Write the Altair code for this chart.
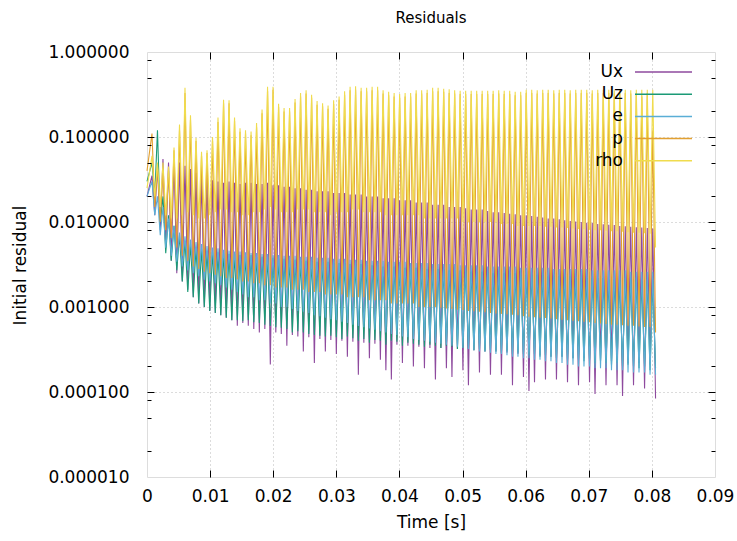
import altair as alt
import pandas as pd

# ---------------- data ----------------
series_names = ["Ux", "Uz", "e", "p", "rho"]
series_colors = ["#8e4a9e", "#1b9a76", "#5aaed6", "#e2a030", "#f0dc4e"]
chart_title = "Residuals"
x_title = "Time [s]"
y_title = "Initial residual"

t_start = 0.0
t_peak = [0.00079, 0.00166, 0.00253, 0.00341, 0.00428, 0.00515, 0.00602, 0.00689, 0.00777, 0.00864,
          0.00951, 0.01038, 0.01125, 0.01213, 0.01300, 0.01387, 0.01474, 0.01561, 0.01649, 0.01736,
          0.01823, 0.01910, 0.01997, 0.02085, 0.02172, 0.02259, 0.02346, 0.02433, 0.02521, 0.02608,
          0.02695, 0.02782, 0.02869, 0.02957, 0.03044, 0.03131, 0.03218, 0.03305, 0.03393, 0.03480,
          0.03567, 0.03654, 0.03741, 0.03829, 0.03916, 0.04003, 0.04090, 0.04177, 0.04265, 0.04352,
          0.04439, 0.04526, 0.04613, 0.04701, 0.04788, 0.04875, 0.04962, 0.05049, 0.05137, 0.05224,
          0.05311, 0.05398, 0.05485, 0.05573, 0.05660, 0.05747, 0.05834, 0.05921, 0.06009, 0.06096,
          0.06183, 0.06270, 0.06357, 0.06445, 0.06532, 0.06619, 0.06706, 0.06793, 0.06881, 0.06968,
          0.07055, 0.07142, 0.07229, 0.07317, 0.07404, 0.07491, 0.07578, 0.07665, 0.07753, 0.07840,
          0.07927, 0.08014]
t_trough = [0.00123, 0.00210, 0.00297, 0.00384, 0.00472, 0.00559, 0.00646, 0.00733, 0.00820, 0.00908,
            0.00995, 0.01082, 0.01169, 0.01256, 0.01344, 0.01431, 0.01518, 0.01605, 0.01692, 0.01780,
            0.01867, 0.01954, 0.02041, 0.02128, 0.02216, 0.02303, 0.02390, 0.02477, 0.02564, 0.02652,
            0.02739, 0.02826, 0.02913, 0.03000, 0.03088, 0.03175, 0.03262, 0.03349, 0.03436, 0.03524,
            0.03611, 0.03698, 0.03785, 0.03872, 0.03960, 0.04047, 0.04134, 0.04221, 0.04308, 0.04396,
            0.04483, 0.04570, 0.04657, 0.04744, 0.04832, 0.04919, 0.05006, 0.05093, 0.05180, 0.05268,
            0.05355, 0.05442, 0.05529, 0.05616, 0.05704, 0.05791, 0.05878, 0.05965, 0.06052, 0.06140,
            0.06227, 0.06314, 0.06401, 0.06488, 0.06576, 0.06663, 0.06750, 0.06837, 0.06924, 0.07012,
            0.07099, 0.07186, 0.07273, 0.07360, 0.07448, 0.07535, 0.07622, 0.07709, 0.07796, 0.07884,
            0.07971, 0.08058]

start_values = [0.02, 0.03, 0.02, 0.04, 0.025]

Ux_hi = [0.035, 0.045, 0.055, 0.050, 0.052, 0.050, 0.046, 0.042, 0.038, 0.034,
         0.033, 0.031, 0.030, 0.029, 0.030, 0.029, 0.028, 0.029, 0.029, 0.028,
         0.028, 0.029, 0.027, 0.027, 0.026, 0.026, 0.025, 0.025, 0.024, 0.024,
         0.023, 0.023, 0.023, 0.022, 0.022, 0.022, 0.021, 0.021, 0.021, 0.020,
         0.020, 0.020, 0.019, 0.019, 0.019, 0.018, 0.018, 0.018, 0.017, 0.017,
         0.017, 0.016, 0.016, 0.016, 0.015, 0.015, 0.015, 0.0145, 0.014, 0.014,
         0.014, 0.0135, 0.013, 0.013, 0.0128, 0.0125, 0.0123, 0.012, 0.012, 0.0118,
         0.0115, 0.0113, 0.011, 0.011, 0.0108, 0.0105, 0.0103, 0.0101, 0.010, 0.0098,
         0.0097, 0.0095, 0.0094, 0.0093, 0.0092, 0.0090, 0.0089, 0.0088, 0.0087, 0.0086,
         0.0085, 0.0084]
Ux_lo = [0.012, 0.008, 0.005, 0.0035, 0.0025, 0.002, 0.0016, 0.0013, 0.0011, 0.001,
         0.0009, 0.00085, 0.0008, 0.00075, 0.0007, 0.0006, 0.00065, 0.0006, 0.00055, 0.0005,
         0.00055, 0.00021, 0.0005, 0.00048, 0.00035, 0.00047, 0.00045, 0.0003, 0.00044, 0.00022,
         0.00042, 0.0003, 0.00041, 0.00028, 0.0004, 0.00026, 0.00039, 0.00016, 0.00038, 0.00025,
         0.00037, 0.00024, 0.00018, 0.00014, 0.00036, 0.00022, 0.00035, 0.0002, 0.00034, 0.00019,
         0.00033, 0.00014, 0.00033, 0.00019, 0.00015, 0.00032, 0.00018, 0.00012, 0.00031, 0.00017,
         0.0003, 0.00016, 0.0003, 0.00016, 0.00029, 0.00012, 0.00028, 0.00015, 0.000103, 0.00013,
         0.00027, 0.00014, 0.00026, 0.00014, 0.00026, 0.00013, 0.00025, 0.00012, 0.00025, 0.00013,
         0.000095, 0.00024, 0.00012, 0.00023, 0.00012, 0.00009, 0.00022, 0.00012, 0.00022, 0.00011,
         0.00021, 0.000084]

Uz_hi = [0.05, 0.12, 0.02, 0.012, 0.009, 0.007, 0.006, 0.0055, 0.005, 0.0048,
         0.0046, 0.0045, 0.0044, 0.0043, 0.0042, 0.0042, 0.0041, 0.004, 0.0041, 0.0039,
         0.0039, 0.0038, 0.0038, 0.0037, 0.0037, 0.0036, 0.0036, 0.0035, 0.0035, 0.0035,
         0.0034, 0.0034, 0.0034, 0.0033, 0.0033, 0.0033, 0.0032, 0.0032, 0.0032, 0.0031,
         0.0031, 0.0031, 0.003, 0.003, 0.003, 0.003, 0.0029, 0.0029, 0.0029, 0.0029,
         0.0028, 0.0028, 0.0028, 0.0028, 0.0027, 0.0027, 0.0027, 0.0027, 0.0026, 0.0026,
         0.0026, 0.0026, 0.0025, 0.0025, 0.0025, 0.0025, 0.0025, 0.0024, 0.0024, 0.0024,
         0.0024, 0.0024, 0.0023, 0.0023, 0.0023, 0.0023, 0.0023, 0.0022, 0.0022, 0.0022,
         0.0022, 0.0022, 0.0022, 0.0021, 0.0021, 0.0021, 0.0021, 0.0021, 0.0021, 0.002,
         0.002, 0.002]
Uz_lo = [0.02, 0.01, 0.0043, 0.0035, 0.0027, 0.002, 0.0015, 0.0013, 0.0011, 0.001,
         0.0009, 0.00085, 0.0008, 0.00075, 0.0007, 0.0007, 0.00068, 0.0007, 0.00066, 0.00065,
         0.00062, 0.0006, 0.00058, 0.00057, 0.00055, 0.0005, 0.00052, 0.0005, 0.00048, 0.00047,
         0.00046, 0.00045, 0.00046, 0.00044, 0.00042, 0.00045, 0.00043, 0.0004, 0.00042, 0.00038,
         0.00041, 0.0004, 0.00036, 0.0004, 0.00039, 0.00035, 0.00038, 0.00037, 0.00036, 0.00034,
         0.00036, 0.00035, 0.00033, 0.00035, 0.00034, 0.00032, 0.00033, 0.00032, 0.00031, 0.00032,
         0.0003, 0.00031, 0.0003, 0.00029, 0.0003, 0.00028, 0.00029, 0.00028, 0.00027, 0.00028,
         0.00026, 0.00027, 0.00026, 0.00025, 0.00026, 0.00024, 0.00025, 0.00024, 0.00023, 0.00024,
         0.00022, 0.00023, 0.00022, 0.00021, 0.00022, 0.0002, 0.00021, 0.0002, 0.00019, 0.0002,
         0.00018, 0.00019]

e_hi = [0.03, 0.02, 0.015, 0.011, 0.009, 0.0075, 0.0068, 0.0062, 0.0058, 0.0055,
        0.0052, 0.005, 0.0049, 0.0047, 0.0046, 0.0045, 0.0045, 0.0044, 0.0043, 0.0043,
        0.0042, 0.0042, 0.0041, 0.0041, 0.004, 0.004, 0.004, 0.0039, 0.0039, 0.0039,
        0.0038, 0.0038, 0.0038, 0.0037, 0.0037, 0.0037, 0.0036, 0.0036, 0.0036, 0.0035,
        0.0035, 0.0035, 0.0035, 0.0034, 0.0034, 0.0034, 0.0034, 0.0033, 0.0033, 0.0033,
        0.0033, 0.0032, 0.0032, 0.0032, 0.0032, 0.0032, 0.0031, 0.0031, 0.0031, 0.0031,
        0.0031, 0.003, 0.003, 0.003, 0.003, 0.003, 0.003, 0.0029, 0.0029, 0.0029,
        0.0029, 0.0029, 0.0029, 0.0028, 0.0028, 0.0028, 0.0028, 0.0028, 0.0028, 0.0028,
        0.0027, 0.0027, 0.0027, 0.0027, 0.0027, 0.0027, 0.0027, 0.0026, 0.0026, 0.0026,
        0.0026, 0.0026]
e_lo = [0.012, 0.007, 0.005, 0.004, 0.0034, 0.003, 0.0027, 0.0025, 0.0023, 0.0021,
        0.002, 0.0019, 0.0018, 0.0017, 0.0016, 0.0015, 0.0014, 0.0013, 0.0013, 0.0012,
        0.0012, 0.0011, 0.0011, 0.001, 0.001, 0.00095, 0.0009, 0.00088, 0.00085, 0.0008,
        0.00078, 0.00075, 0.00072, 0.0007, 0.00067, 0.00065, 0.00062, 0.0006, 0.00058, 0.00056,
        0.00054, 0.00052, 0.0005, 0.00048, 0.00047, 0.00045, 0.00044, 0.00042, 0.00041, 0.0004,
        0.00039, 0.00038, 0.00037, 0.00036, 0.00035, 0.00034, 0.00033, 0.00032, 0.00031, 0.0003,
        0.0003, 0.00029, 0.00028, 0.00028, 0.00027, 0.00026, 0.00026, 0.00025, 0.00025, 0.00024,
        0.00024, 0.00023, 0.00023, 0.00022, 0.00022, 0.00021, 0.00021, 0.0002, 0.0002, 0.0002,
        0.00019, 0.00019, 0.00019, 0.00018, 0.00018, 0.00018, 0.00017, 0.00017, 0.00017, 0.00017,
        0.00016, 0.00016]

p_hi = [0.11, 0.045, 0.04, 0.04, 0.07, 0.12, 0.33, 0.16, 0.09, 0.06,
        0.065, 0.09, 0.15, 0.25, 0.25, 0.155, 0.115, 0.11, 0.105, 0.13,
        0.19, 0.35, 0.36, 0.225, 0.2, 0.2, 0.255, 0.3, 0.325, 0.29,
        0.24, 0.23, 0.215, 0.245, 0.275, 0.315, 0.355, 0.36, 0.345, 0.345,
        0.355, 0.355, 0.325, 0.31, 0.3, 0.29, 0.3, 0.3, 0.325, 0.325,
        0.33, 0.345, 0.345, 0.34, 0.33, 0.325, 0.32, 0.32, 0.32, 0.32,
        0.32, 0.32, 0.32, 0.325, 0.32, 0.32, 0.31, 0.31, 0.33, 0.33,
        0.325, 0.33, 0.33, 0.325, 0.33, 0.33, 0.325, 0.33, 0.33, 0.33,
        0.325, 0.33, 0.33, 0.33, 0.325, 0.33, 0.33, 0.325, 0.33, 0.3,
        0.33, 0.12]
p_lo = [0.015, 0.01, 0.008, 0.0065, 0.005, 0.004, 0.0035, 0.003, 0.0028, 0.0026,
        0.0025, 0.0024, 0.0023, 0.0022, 0.0022, 0.0021, 0.002, 0.002, 0.0019, 0.0019,
        0.0018, 0.0018, 0.0017, 0.0017, 0.0017, 0.0016, 0.0016, 0.0016, 0.0015, 0.0015,
        0.0015, 0.0014, 0.0014, 0.0014, 0.0014, 0.0013, 0.0013, 0.0013, 0.0013, 0.0012,
        0.0012, 0.0012, 0.0012, 0.0011, 0.0011, 0.0011, 0.0011, 0.0011, 0.001, 0.001,
        0.001, 0.001, 0.00098, 0.00096, 0.00095, 0.00093, 0.00092, 0.0009, 0.00089, 0.00088,
        0.00087, 0.00085, 0.00084, 0.00083, 0.00082, 0.00081, 0.0008, 0.00078, 0.00077, 0.00076,
        0.00075, 0.00074, 0.00073, 0.00072, 0.00071, 0.0007, 0.00069, 0.00068, 0.00067, 0.00066,
        0.00065, 0.00064, 0.00063, 0.00062, 0.00062, 0.00061, 0.0006, 0.0006, 0.00059, 0.00058,
        0.00058, 0.0005]

rho_hi = [0.06, 0.05, 0.05, 0.045, 0.075, 0.14, 0.38, 0.18, 0.097, 0.067,
          0.07, 0.10, 0.17, 0.275, 0.27, 0.17, 0.127, 0.12, 0.116, 0.146,
          0.21, 0.39, 0.39, 0.246, 0.22, 0.22, 0.28, 0.33, 0.355, 0.315,
          0.265, 0.25, 0.235, 0.27, 0.30, 0.345, 0.39, 0.395, 0.38, 0.38,
          0.39, 0.39, 0.355, 0.34, 0.33, 0.32, 0.33, 0.33, 0.355, 0.355,
          0.36, 0.38, 0.38, 0.37, 0.365, 0.355, 0.35, 0.35, 0.35, 0.35,
          0.35, 0.35, 0.35, 0.355, 0.35, 0.35, 0.34, 0.34, 0.36, 0.36,
          0.355, 0.36, 0.36, 0.355, 0.36, 0.36, 0.355, 0.36, 0.36, 0.36,
          0.355, 0.36, 0.36, 0.36, 0.355, 0.36, 0.36, 0.355, 0.36, 0.36,
          0.36, 0.36]
rho_lo = [0.02, 0.015, 0.012, 0.011, 0.011, 0.012, 0.013, 0.012, 0.011, 0.011,
          0.012, 0.013, 0.014, 0.014, 0.013, 0.013, 0.012, 0.012, 0.013, 0.013,
          0.014, 0.015, 0.014, 0.013, 0.013, 0.013, 0.014, 0.014, 0.014, 0.013,
          0.013, 0.013, 0.012, 0.013, 0.013, 0.013, 0.014, 0.014, 0.013, 0.013,
          0.013, 0.013, 0.012, 0.012, 0.012, 0.012, 0.012, 0.012, 0.012, 0.011,
          0.011, 0.011, 0.011, 0.011, 0.011, 0.011, 0.010, 0.010, 0.010, 0.010,
          0.010, 0.010, 0.010, 0.0095, 0.0095, 0.0095, 0.009, 0.009, 0.009, 0.009,
          0.009, 0.0088, 0.0088, 0.0086, 0.0086, 0.0085, 0.0084, 0.0083, 0.0082, 0.0081,
          0.008, 0.008, 0.0079, 0.0078, 0.0078, 0.0077, 0.0076, 0.0075, 0.0075, 0.0074,
          0.0073, 0.005]

x_tick_values = [0.0, 0.01, 0.02, 0.03, 0.04, 0.05, 0.06, 0.07, 0.08, 0.09]
y_tick_values = [0.00001, 0.0001, 0.001, 0.01, 0.1, 1.0]
minor_multipliers = [2, 5, 8]

hi_lists = [Ux_hi, Uz_hi, e_hi, p_hi, rho_hi]
lo_lists = [Ux_lo, Uz_lo, e_lo, p_lo, rho_lo]

rows = []
for name, s0, hi, lo in zip(series_names, start_values, hi_lists, lo_lists):
    rows.append({"series": name, "time": t_start, "residual": s0})
    for k in range(len(t_peak)):
        rows.append({"series": name, "time": t_peak[k], "residual": hi[k]})
        rows.append({"series": name, "time": t_trough[k], "residual": lo[k]})
df = pd.DataFrame(rows)

# ---------------- layout ----------------
W, H = 568, 425
FONT = "DejaVu Sans"
x_inner = x_tick_values[1:-1]
y_inner = y_tick_values[1:-1]
y_minor = [d * m for d in y_tick_values[:-1] for m in minor_multipliers]

x_scale = alt.Scale(domain=[x_tick_values[0], x_tick_values[-1]], nice=False, zero=False)
y_scale = alt.Scale(type="log", domain=[y_tick_values[0], y_tick_values[-1]], nice=False)

X = lambda axis: alt.X("time:Q", scale=x_scale, axis=axis)
Y = lambda axis: alt.Y("residual:Q", scale=y_scale, axis=axis)

tiny = df.iloc[:1]

# grid only
grid_layer = alt.Chart(tiny).mark_point(opacity=0).encode(
    x=X(alt.Axis(orient="bottom", values=x_inner, labels=False, ticks=False, domain=False,
                 grid=True, gridColor="#b8b8b8", gridDash=[1, 3], gridWidth=1, title=None)),
    y=Y(alt.Axis(orient="left", values=y_inner, labels=False, ticks=False, domain=False,
                 grid=True, gridColor="#b8b8b8", gridDash=[1, 3], gridWidth=1, title=None)),
)

line_layers = []
for i, (name, color) in enumerate(zip(series_names, series_colors)):
    if i == 0:
        xa = alt.Axis(orient="bottom", values=x_tick_values,
                      labelExpr="datum.value == 0 ? '0' : format(datum.value, '.2f')",
                      ticks=False, tickSize=0, domain=False, grid=False, labelFlush=False,
                      labelFontSize=17, labelPadding=11, labelColor="black",
                      title=x_title, titleFontSize=17, titleFontWeight="normal",
                      titleColor="black", titleX=W / 2, titleY=45,
                      titleAlign="center", titleBaseline="middle")
        ya = alt.Axis(orient="left", values=y_tick_values, format=".6f",
                      ticks=False, tickSize=0, domain=False, grid=False,
                      labelFontSize=17, labelPadding=18, labelColor="black",
                      title=y_title, titleFontSize=17, titleFontWeight="normal",
                      titleColor="black", titleX=-127, titleY=H / 2 + 0.5,
                      titleAngle=270, titleAlign="center", titleBaseline="middle")
    else:
        xa = None
        ya = None
    line_layers.append(
        alt.Chart(df[df["series"] == name]).mark_line(color=color, strokeWidth=1.1).encode(
            x=X(xa), y=Y(ya)
        )
    )

tick_common = dict(labels=False, domain=False, grid=False, title=None, tickColor="black",
                   tickWidth=1, zindex=2)
tick_major_a = alt.Chart(tiny).mark_point(opacity=0).encode(
    x=X(alt.Axis(orient="top", offset=-H, values=x_inner, tickSize=7, **tick_common)),
    y=Y(alt.Axis(orient="right", offset=-W, values=y_inner, tickSize=7, **tick_common)),
)
tick_major_b = alt.Chart(tiny).mark_point(opacity=0).encode(
    x=X(alt.Axis(orient="bottom", offset=-H, values=x_inner, tickSize=7, **tick_common)),
    y=Y(alt.Axis(orient="left", offset=-W, values=y_inner, tickSize=7, **tick_common)),
)
tick_minor_a = alt.Chart(tiny).mark_point(opacity=0).encode(
    x=X(None),
    y=Y(alt.Axis(orient="right", offset=-W, values=y_minor, tickSize=4, **tick_common)),
)
tick_minor_b = alt.Chart(tiny).mark_point(opacity=0).encode(
    x=X(None),
    y=Y(alt.Axis(orient="left", offset=-W, values=y_minor, tickSize=4, **tick_common)),
)

# title as a text mark above the plot area
title_layer = alt.Chart(pd.DataFrame({"label": [chart_title]})).mark_text(
    align="center", baseline="middle", fontSize=15, font=FONT, color="black"
).encode(text="label:N", x=alt.value(W / 2), y=alt.value(-34))

# legend (gnuplot style: label on the left, line sample on the right)
legend_layers = []
for i, (name, color) in enumerate(zip(series_names, series_colors)):
    ly = 20 + 22.2 * i
    ldf = pd.DataFrame({"label": [name]})
    legend_layers.append(
        alt.Chart(ldf).mark_text(align="right", baseline="middle", fontSize=17,
                                 font=FONT, color="black").encode(
            text="label:N", x=alt.value(476), y=alt.value(ly))
    )
    legend_layers.append(
        alt.Chart(ldf).mark_rule(color=color, strokeWidth=1.5).encode(
            x=alt.value(488), x2=alt.value(545), y=alt.value(ly))
    )

chart = alt.layer(
    grid_layer, *line_layers, tick_major_a, tick_major_b, tick_minor_a, tick_minor_b,
    title_layer, *legend_layers
).resolve_axis(x="independent", y="independent").properties(
    width=W, height=H,
    autosize=alt.AutoSizeParams(type="none"),
    padding={"left": 147, "top": 52, "right": 22, "bottom": 64},
    background="white",
).configure_view(stroke="black", strokeWidth=1).configure(font=FONT)

chart.save("out.html", embed_options={"renderer": "svg", "actions": False})
